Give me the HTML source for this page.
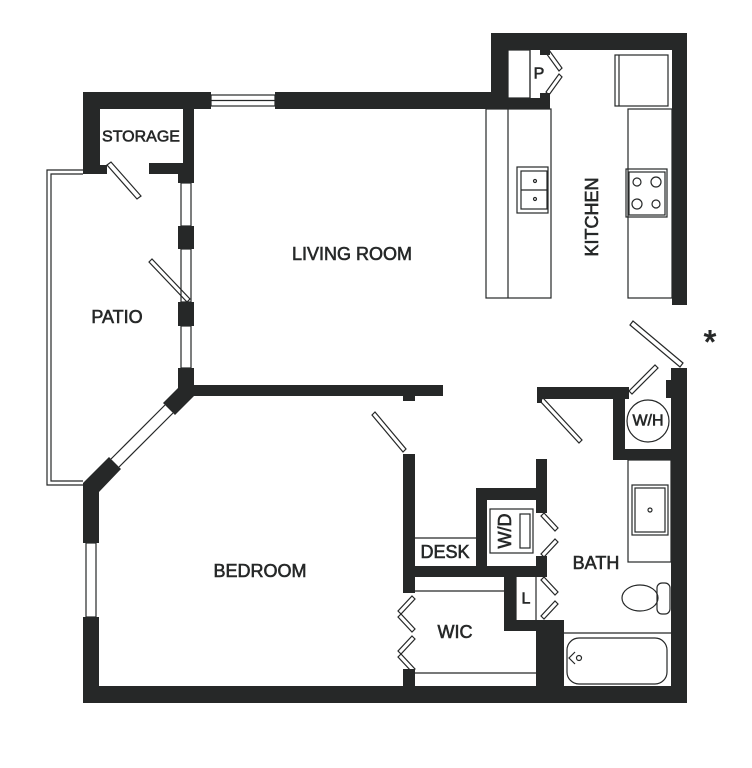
<!DOCTYPE html>
<html><head><meta charset="utf-8"><style>
html,body{margin:0;padding:0;background:#fff;}
svg{display:block}
text{font-family:"Liberation Sans",sans-serif;font-size:18px;fill:#262828;stroke:#262828;stroke-width:0.6;text-anchor:middle;dominant-baseline:central}
</style></head><body>
<svg width="752" height="768" viewBox="0 0 752 768" xmlns="http://www.w3.org/2000/svg">
<g fill="#262828">
<rect x="83" y="92" width="128" height="17"/>
<rect x="83" y="92" width="17" height="82"/>
<rect x="83" y="165" width="24" height="9"/>
<rect x="183" y="92" width="11" height="82"/>
<rect x="149" y="163" width="45" height="11"/>
<rect x="178" y="163" width="16" height="20"/>
<rect x="178" y="226" width="16" height="23"/>
<rect x="178" y="302" width="16" height="24"/>
<rect x="178" y="368" width="16" height="28"/>
<rect x="275" y="92" width="216" height="17"/>
<rect x="491" y="98" width="59" height="11"/>
<rect x="491" y="33" width="196" height="17"/>
<rect x="491" y="33" width="17" height="76"/>
<rect x="540" y="50" width="10" height="5"/>
<rect x="540" y="93" width="10" height="5"/>
<rect x="672" y="33" width="15" height="272"/>
<rect x="194" y="385" width="249" height="11"/>
<rect x="403" y="385" width="12" height="16"/>
<polygon points="178,388 194,396 175,415 163,403"/>
<polygon points="109,457 121,469 99,492 99,495 83,495 83,483"/>
<rect x="83" y="483" width="16" height="60"/>
<rect x="83" y="617" width="16" height="86"/>
<rect x="83" y="686" width="604" height="17"/>
<rect x="671" y="368" width="16" height="335"/>
<rect x="666" y="380" width="6" height="18"/>
<rect x="403" y="454" width="12" height="139"/>
<rect x="403" y="669" width="12" height="17"/>
<rect x="403" y="566" width="144" height="11"/>
<rect x="476" y="488" width="11" height="80"/>
<rect x="476" y="488" width="71" height="12"/>
<rect x="536" y="459" width="11" height="54"/>
<rect x="536" y="556" width="11" height="21"/>
<rect x="504" y="577" width="12" height="54"/>
<rect x="504" y="620" width="60" height="11"/>
<rect x="536" y="620" width="28" height="66"/>
<rect x="537" y="387" width="92" height="12"/>
<rect x="537" y="387" width="5" height="16"/>
<rect x="613" y="387" width="12" height="73"/>
<rect x="613" y="449" width="58" height="11"/>
</g>
<g fill="none" stroke="#262828" stroke-width="1.2">
<rect x="211" y="95" width="64" height="11" fill="#fff"/>
<line x1="211" y1="100.5" x2="275" y2="100.5"/>
<rect x="181" y="183" width="10" height="43"/>
<rect x="181" y="249" width="10" height="53"/>
<rect x="181" y="326" width="10" height="42"/>
<rect x="86" y="543" width="10" height="74"/>
<line x1="165" y1="405" x2="111" y2="459"/>
<line x1="173" y1="413" x2="119" y2="467"/>
<polyline points="83,170 47,170 47,485 83,485"/>
<polyline points="83,174 51,174 51,481 83,481"/>
<polygon points="107,165 111,162 141,196 137,199"/>
<polygon points="149,262 152,259 190,299 187,302"/>
<polygon points="372,415 375,412 406,449 403,452"/>
<polygon points="540,401 543,398 582,440 579,443"/>
<polygon points="630,325 633,321 683,363 680,367"/>
<polygon points="629,391 655,365 658,368 632,394"/>
<polygon points="546,53 549,50 562,68 559,71"/>
<polygon points="546,92 549,95 562,77 559,74"/>
<polygon points="541,516 544,513 558,528 555,531"/>
<polygon points="541,554 544,557 558,542 555,539"/>
<polygon points="541,580 544,577 558,592 555,595"/>
<polygon points="541,616 544,619 558,604 555,601"/>
<polygon points="412,596 415,599 401,614 398,611"/>
<polygon points="401,614 398,617 412,632 415,629"/>
<polygon points="412,636 415,639 401,654 398,651"/>
<polygon points="401,654 398,657 412,672 415,669"/>
<rect x="508" y="50" width="22" height="48"/>
<line x1="530" y1="50" x2="530" y2="98"/>
<rect x="486" y="109" width="65" height="189"/>
<line x1="508" y1="109" x2="508" y2="298"/>
<rect x="517" y="167" width="31" height="46"/>
<rect x="521" y="171" width="26" height="38"/>
<line x1="521" y1="190" x2="547" y2="190"/>
<circle cx="535" cy="181" r="1.5"/><circle cx="535" cy="199" r="1.5"/>
<rect x="615" y="55" width="53" height="51"/>
<line x1="619" y1="55" x2="619" y2="106"/>
<rect x="628" y="109" width="44" height="189"/>
<rect x="626" y="169" width="41" height="48"/>
<rect x="629" y="172" width="36" height="43"/>
<circle cx="637" cy="182" r="4"/><circle cx="656" cy="182" r="5"/>
<circle cx="637" cy="204" r="5"/><circle cx="656" cy="204" r="4"/>
<line x1="415" y1="538" x2="476" y2="538"/>
<rect x="490" y="509" width="43" height="44"/>
<rect x="520" y="514" width="10" height="34"/>
<line x1="415" y1="591" x2="504" y2="591"/>
<line x1="415" y1="673" x2="536" y2="673"/>
<line x1="516" y1="577" x2="516" y2="620"/>
<line x1="536" y1="577" x2="536" y2="620"/>
<circle cx="648" cy="421" r="21"/>
<rect x="628" y="460" width="43" height="102"/>
<rect x="632" y="485" width="36" height="50"/>
<rect x="635" y="488" width="30" height="44"/>
<circle cx="650" cy="510" r="2"/>
<ellipse cx="640" cy="598" rx="18" ry="13"/>
<rect x="657" y="583" width="13" height="31" rx="5"/>
<line x1="564" y1="633" x2="671" y2="633"/>
<rect x="567" y="638" width="100" height="46" rx="12"/>
<polyline points="575,652 569,658 575,664"/>
<circle cx="579" cy="658" r="2.5"/>
</g>
<text x="141" y="137" style="font-size:16px">STORAGE</text>
<text x="117" y="317">PATIO</text>
<text x="352" y="254">LIVING ROOM</text>
<text transform="translate(592,217) rotate(-90)">KITCHEN</text>
<text x="260" y="571">BEDROOM</text>
<text x="445" y="552">DESK</text>
<text transform="translate(505,531) rotate(-90)">W/D</text>
<text x="596" y="563">BATH</text>
<text x="455" y="632">WIC</text>
<text x="526" y="599" style="font-size:16px">L</text>
<text x="539" y="74" style="font-size:16px">P</text>
<text x="648" y="421" style="font-size:16px">W/H</text>
<text x="710" y="342" style="font-size:32px;stroke-width:1">*</text>
</svg>
</body></html>
